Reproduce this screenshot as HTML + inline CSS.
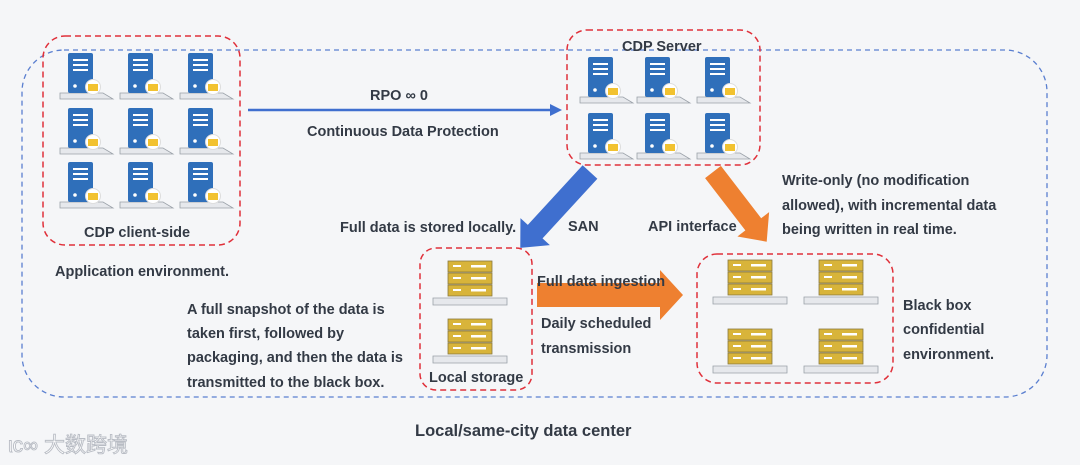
<!DOCTYPE html>
<html><head><meta charset="utf-8"><style>
body{margin:0;background:#f5f6f8;}
svg{display:block;font-family:"Liberation Sans","Noto Sans CJK SC",sans-serif;}
.t{font-size:14.5px;font-weight:bold;fill:#333a45;}
</style></head><body>
<svg width="1080" height="465" viewBox="0 0 1080 465">
<defs>
<g id="bs">
 <polygon points="-8,40 35,40 45,46 -8,46" fill="#e6e8ec" stroke="#9aa0a8" stroke-width="0.8"/>
 <rect x="0" y="0" width="25" height="40" rx="2" fill="#2f6fba"/>
 <rect x="5" y="6" width="15" height="2" fill="#fff"/><rect x="5" y="11" width="15" height="2" fill="#fff"/><rect x="5" y="16" width="15" height="2" fill="#fff"/>
 <circle cx="7" cy="33" r="1.8" fill="#fff"/>
 <circle cx="25" cy="34" r="7.5" fill="#fff" stroke="#ddd"/>
 <rect x="20" y="31" width="10" height="7" fill="#f2c230"/>
</g>
<g id="ys">
 <polygon points="-15,37 59,37 59,44 -15,44" fill="#e6e8ec" stroke="#9aa0a8" stroke-width="0.8"/>
 <rect x="0" y="0" width="44" height="11" fill="#d8b43a" stroke="#8a7a40" stroke-width="0.8"/>
 <rect x="0" y="12" width="44" height="11" fill="#d8b43a" stroke="#8a7a40" stroke-width="0.8"/>
 <rect x="0" y="24" width="44" height="11" fill="#d8b43a" stroke="#8a7a40" stroke-width="0.8"/>
 <g fill="#fff"><rect x="5" y="4" width="8" height="2"/><rect x="23" y="4" width="15" height="2.5"/>
 <rect x="5" y="16" width="8" height="2"/><rect x="23" y="16" width="15" height="2.5"/>
 <rect x="5" y="28" width="8" height="2"/><rect x="23" y="28" width="15" height="2.5"/></g>
</g>
</defs>
<rect x="22" y="50" width="1025" height="347" rx="42" fill="none" stroke="#5a7fd0" stroke-width="1.3" stroke-dasharray="5,4"/>
<rect x="43" y="36" width="197" height="209" rx="22" fill="none" stroke="#e0303a" stroke-width="1.5" stroke-dasharray="6,4"/>
<rect x="567" y="30" width="193" height="135" rx="20" fill="none" stroke="#e0303a" stroke-width="1.5" stroke-dasharray="6,4"/>
<rect x="420" y="248" width="112" height="142" rx="16" fill="none" stroke="#e0303a" stroke-width="1.5" stroke-dasharray="6,4"/>
<rect x="697" y="254" width="196" height="129" rx="20" fill="none" stroke="#e0303a" stroke-width="1.5" stroke-dasharray="6,4"/>
<g>
<use href="#bs" x="68" y="53"/><use href="#bs" x="128" y="53"/><use href="#bs" x="188" y="53"/>
<use href="#bs" x="68" y="108"/><use href="#bs" x="128" y="108"/><use href="#bs" x="188" y="108"/>
<use href="#bs" x="68" y="162"/><use href="#bs" x="128" y="162"/><use href="#bs" x="188" y="162"/>
<use href="#bs" x="588" y="57"/><use href="#bs" x="645" y="57"/><use href="#bs" x="705" y="57"/>
<use href="#bs" x="588" y="113"/><use href="#bs" x="645" y="113"/><use href="#bs" x="705" y="113"/>
<use href="#ys" x="448" y="261"/><use href="#ys" x="448" y="319"/>
<use href="#ys" x="728" y="260"/><use href="#ys" x="819" y="260"/>
<use href="#ys" x="728" y="329"/><use href="#ys" x="819" y="329"/>
</g>
<line x1="248" y1="110" x2="553" y2="110" stroke="#3f6fcf" stroke-width="2.5"/>
<polygon points="562,110 550,104 550,116" fill="#3f6fcf"/>
<polygon points="0,-10 81,-10 81,-20 103,0 81,20 81,10 0,10" fill="#3f6fcf" transform="translate(590,172) rotate(132.6)"/>
<polygon points="0,-10 66,-10 66,-20 88,0 66,20 66,10 0,10" fill="#ee8030" transform="translate(713,172) rotate(52.4)"/>
<polygon points="537,283 660,283 660,270 683,295 660,320 660,307 537,307" fill="#ee8030"/>
<text class="t" x="370" y="100">RPO ∞ 0</text>
<text class="t" x="307" y="136">Continuous Data Protection</text>
<text class="t" x="622" y="51">CDP Server</text>
<text class="t" x="84" y="237">CDP client-side</text>
<text class="t" x="55" y="276">Application environment.</text>
<text class="t" x="340" y="232">Full data is stored locally.</text>
<text class="t" x="568" y="231">SAN</text>
<text class="t" x="648" y="231">API interface</text>
<text class="t" x="782" y="185">Write-only (no modification</text>
<text class="t" x="782" y="210">allowed), with incremental data</text>
<text class="t" x="782" y="234">being written in real time.</text>
<text class="t" x="187" y="314">A full snapshot of the data is</text>
<text class="t" x="187" y="338">taken first, followed by</text>
<text class="t" x="187" y="362">packaging, and then the data is</text>
<text class="t" x="187" y="387">transmitted to the black box.</text>
<text class="t" x="429" y="382">Local storage</text>
<text class="t" x="537" y="286">Full data ingestion</text>
<text class="t" x="541" y="328">Daily scheduled</text>
<text class="t" x="541" y="353">transmission</text>
<text class="t" x="903" y="310">Black box</text>
<text class="t" x="903" y="334">confidential</text>
<text class="t" x="903" y="359">environment.</text>
<text x="415" y="436" style="font-size:16.5px;font-weight:bold;fill:#333a45">Local/same-city data center</text>
<text x="8" y="452" style="font-size:21px;fill:#ffffff;stroke:#b8bcc4;stroke-width:0.9">ιᴄ∞ 大数跨境</text>
</svg>
</body></html>
